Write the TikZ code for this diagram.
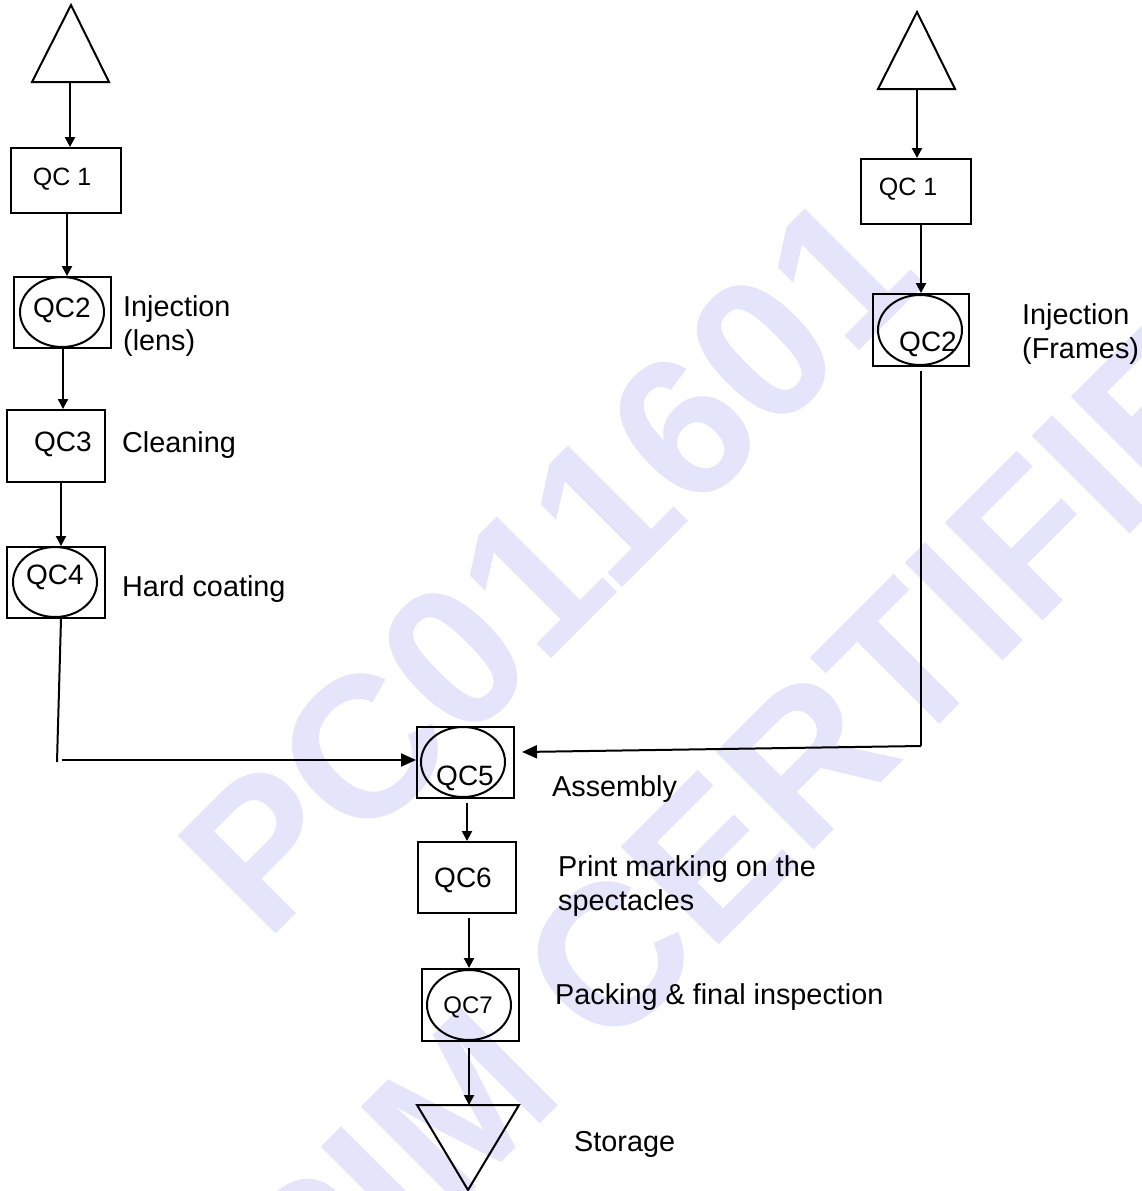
\documentclass[tikz,border=0pt]{standalone}
\usepackage{fontspec}
\setmainfont{Liberation Sans}
\usetikzlibrary{arrows.meta,shapes.geometric}
\definecolor{wm}{RGB}{228,228,250}
\begin{document}
\begin{tikzpicture}[x=1pt,y=-1pt,
  wmtext/.style={text=wm, inner sep=0, anchor=base, rotate=45, font=\fontsize{201}{201}\selectfont\bfseries},
  box/.style={draw, line width=1.9pt, inner sep=0, minimum width=#1},
  ell/.style={draw, ellipse, line width=2pt, inner sep=0, minimum width=84, minimum height=70},
  lbl/.style={anchor=north west, inner sep=0, align=left, font=\fontsize{28.8}{34}\selectfont},
  qlbl/.style={anchor=base, inner sep=0, font=\fontsize{28}{28}\selectfont},
  qlbls/.style={anchor=base, inner sep=0, font=\fontsize{25}{25}\selectfont},
  con/.style={line width=2pt},
  arr/.style={line width=2pt, -{Triangle[length=10pt,width=10pt]}},
  harr/.style={line width=2pt, -{Triangle[length=15pt,width=13pt]}},
  tri/.style={line width=2pt, line join=miter}
]
\useasboundingbox (0,0) rectangle (1142,1191);
\clip (0,0) rectangle (1142,1191);
\fill[white] (0,0) rectangle (1142,1191);

% watermark
\node[wmtext] (wm1) at (598,612) {PC011601};
\node[wmtext] (wm2) at (836,828) {PIM CERTIFIED};

% left triangle
\coordinate (t1a) at (71,5);
\coordinate (t1l) at (32,82);
\coordinate (t1r) at (109,82);
\coordinate (t1b) at (70,82);
\draw[tri] (t1a) -- (t1l) -- (t1r) -- cycle;

% right triangle
\coordinate (t2a) at (917,12);
\coordinate (t2l) at (878,89);
\coordinate (t2r) at (955,89);
\coordinate (t2b) at (917,89);
\draw[tri] (t2a) -- (t2l) -- (t2r) -- cycle;

% storage triangle
\coordinate (sl) at (417,1105);
\coordinate (sr) at (519,1105);
\coordinate (sa) at (468,1190);
\coordinate (st) at (469,1105);
\draw[tri] (sl) -- (sr) -- (sa) -- cycle;

% boxes
\node[box=110, minimum height=65] (qc1l) at (66,180.5) {};
\node[box=97, minimum height=71] (qc2l) at (62.5,312.5) {};
\node[box=98, minimum height=72] (qc3) at (56,446) {};
\node[box=98, minimum height=71] (qc4) at (56,582.5) {};
\node[box=110, minimum height=65] (qc1r) at (916,191.5) {};
\node[box=96, minimum height=72] (qc2r) at (921,330) {};
\node[box=97, minimum height=71] (qc5) at (465.5,762.5) {};
\node[box=98, minimum height=71] (qc6) at (467,877.5) {};
\node[box=97, minimum height=72] (qc7) at (470.5,1005) {};

% ellipses
\node[ell] (e2l) at (62,312) {};
\node[ell] (e4) at (55,582) {};
\node[ell] (e2r) at (920,330) {};
\node[ell] (e5) at (463,762) {};
\node[ell] (e7) at (469,1005) {};

% box texts
\node[qlbls] (q1l) at (62,185) {QC 1};
\node[qlbl] (q2l) at (62,317) {QC2};
\node[qlbl] (q3) at (63,451) {QC3};
\node[qlbl] (q4) at (55,584) {QC4};
\node[qlbls] (q1r) at (908,195) {QC 1};
\node[qlbl] (q2r) at (928,351) {QC2};
\node[qlbl] (q5) at (465,785) {QC5};
\node[qlbl] (q6) at (463,887) {QC6};
\node[qlbl, font=\fontsize{24}{24}\selectfont] (q7) at (468,1013) {QC7};

% labels
\node[lbl] (lens) at (123,295) {Injection\\(lens)};
\node[lbl] (clean) at (122,431) {Cleaning};
\node[lbl] (hard) at (122,575) {Hard coating};
\node[lbl] (frames) at (1022,303) {Injection\\(Frames)};
\node[lbl] (assy) at (552,775) {Assembly};
\node[lbl] (print) at (558,855) {Print marking on the\\spectacles};
\node[lbl] (pack) at (555,983) {Packing \& final inspection};
\node[lbl] (stor) at (574,1131) {Storage};

% connectors left column
\draw[arr] (t1b) -- (t1b |- qc1l.north);
\draw[arr] ([xshift=1pt]qc1l.south) -- ([xshift=1pt]qc1l.south |- qc2l.north);
\draw[arr] ([xshift=0.5pt]qc2l.south) -- ([xshift=0.5pt]qc2l.south |- qc3.north);
\draw[arr] ([xshift=5pt]qc3.south) -- ([xshift=5pt]qc3.south |- qc4.north);
\coordinate (c1) at (57,762);
\coordinate (c2) at (62,760);
\draw[con] ([xshift=5pt]qc4.south) -- (c1);
\draw[harr] (c2) -- (c2 -| qc5.west);

% connectors right column
\draw[arr] (t2b) -- (t2b |- qc1r.north);
\draw[arr] (qc1r.south -| qc2r.north) -- (qc2r.north);
\coordinate (c3) at (921,746);
\coordinate (c4) at (522,752);
\draw[con] ([yshift=-4pt]qc2r.south) -- (c3);
\draw[harr] (c3) -- (c4);

% lower chain
\draw[arr] ([yshift=-4pt]qc5.south -| qc6.north) -- (qc6.north);
\draw[arr] ([yshift=-4pt, xshift=2pt]qc6.south) -- ([xshift=2pt]qc6.south |- qc7.north);
\draw[arr] ([yshift=-6pt, xshift=-1.5pt]qc7.south) -- ([xshift=-1.5pt]qc7.south |- st);
\end{tikzpicture}
\end{document}
